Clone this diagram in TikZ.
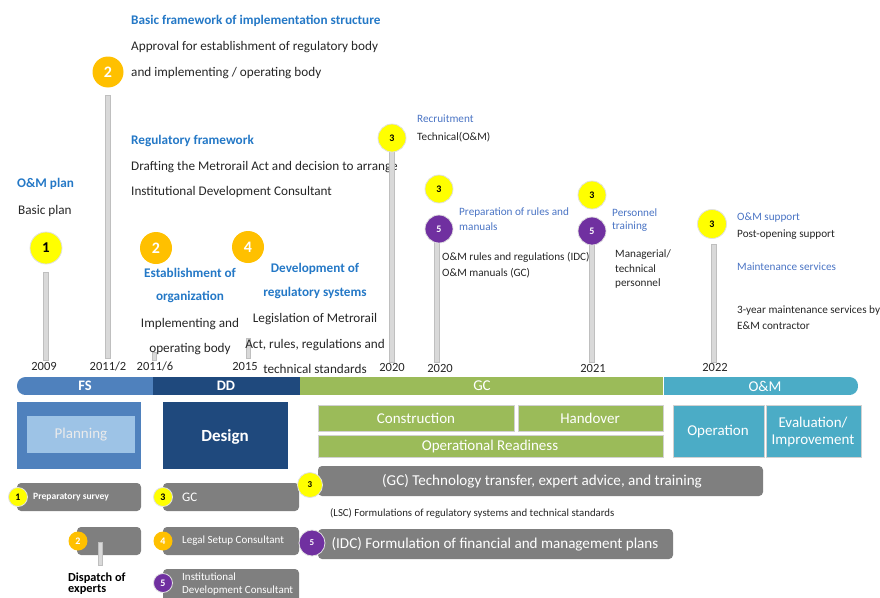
\documentclass[tikz,border=0pt]{standalone}
\usepackage{fontspec}
\setmainfont{Carlito}
\definecolor{txt}{HTML}{262626}
\definecolor{headblue}{HTML}{2478C6}
\definecolor{softblue}{HTML}{4A74C4}
\definecolor{cyellow}{HTML}{FFFF00}
\definecolor{corange}{HTML}{FFC000}
\definecolor{cpurple}{HTML}{7030A0}
\definecolor{stemfill}{HTML}{D9D9D9}
\definecolor{stemedge}{HTML}{BFBFBF}
\definecolor{boxgray}{HTML}{7F7F7F}
\definecolor{fsblue}{HTML}{4F81BD}
\definecolor{ddblue}{HTML}{1F497D}
\definecolor{planlight}{HTML}{9DC3E6}
\definecolor{gcgreen}{HTML}{9BBB59}
\definecolor{omteal}{HTML}{4BACC6}
\newcommand{\fs}[1]{\fontsize{#1}{#1}\selectfont}
\tikzset{
  circ/.style={circle, inner sep=0pt, font=\bfseries},
  ycirc/.style={circ, fill=cyellow, draw=black!12, line width=0.8pt, text=black},
  ocirc/.style={circ, fill=corange, text=white},
  pcirc/.style={circ, fill=cpurple, draw=black!12, line width=0.8pt, text=white},
  stem/.style={fill=stemfill, draw=stemedge, line width=0.4pt},
  head/.style={anchor=west, inner sep=0pt, text=headblue, font=\bfseries\fs{13.2}},
  body/.style={anchor=west, inner sep=0pt, text=txt, font=\fs{13.2}},
  chead/.style={inner sep=0pt, text=headblue, font=\bfseries\fs{13.2}},
  cbody/.style={inner sep=0pt, text=txt, font=\fs{13.2}},
  shead/.style={anchor=west, inner sep=0pt, text=softblue, font=\fs{11.2}},
  sbody/.style={anchor=west, inner sep=0pt, text=txt, font=\fs{11.2}},
  year/.style={inner sep=0pt, text=txt, font=\fs{12.5}},
  gbox/.style={fill=boxgray, rounded corners=4pt},
  gtext/.style={anchor=west, inner sep=0pt, text=white},
  phase/.style={inner sep=0pt, text=white, font=\fs{15}},
  block/.style={draw=black!18, line width=0.5pt},
}
\begin{document}
\begin{tikzpicture}[x=1pt, y=-1pt]
\useasboundingbox (0,0) rectangle (880,597);
\clip (0,0) rectangle (880,597);

% ---------- stems lying behind the texts ----------
\filldraw[stem] (43.5,272) rectangle (48.5,360);
\filldraw[stem] (105.5,95) rectangle (110.5,358);
\filldraw[stem] (152,352) rectangle (156,360);
\filldraw[stem] (246,338) rectangle (250,358);
\filldraw[stem] (434.5,241) rectangle (439.5,362);
\filldraw[stem] (589.5,243) rectangle (594.5,362);
\filldraw[stem] (711.5,244) rectangle (716.5,362);

% ---------- upper text ----------
\node[head] (bfh) at (131,21) {Basic framework of implementation structure};
\node[body] (bf1) at (131,47) {Approval for establishment of regulatory body};
\node[body] (bf2) at (131,73) {and implementing / operating body};
\node[head] (rfh) at (131,141) {Regulatory framework};
\node[body] (rf1) at (131,167) {Drafting the Metrorail Act and decision to arrange};
\node[body] (rf2) at (131,192) {Institutional Development Consultant};
\node[head] (omh) at (17,184) {O\&M plan};
\node[body] (om1) at (18,211) {Basic plan};

\node[chead] (eo1) at (190,273) {Establishment of};
\node[chead] (eo2) at (190,297) {organization};
\node[cbody] (eo3) at (190,324) {Implementing and};
\node[cbody] (eo4) at (190,349) {operating body};

\node[chead] (dr1) at (315,269) {Development of};
\node[chead] (dr2) at (315,293) {regulatory systems};
\node[cbody] (dr3) at (315,319) {Legislation of Metrorail};
\node[cbody] (dr4) at (315,345) {Act, rules, regulations and};
\node[cbody] (dr5) at (315,369) {technical standards};

\node[shead] (rc1) at (417,119) {Recruitment};
\node[sbody] (rc2) at (417,137) {Technical(O\&M)};
\node[shead] (pr1) at (459,213) {Preparation of rules and};
\node[shead] (pr2) at (459,227) {manuals};
\node[sbody] (pr3) at (442,257) {O\&M rules and regulations (IDC)};
\node[sbody] (pr4) at (442,273) {O\&M manuals (GC)};
\node[shead] (pt1) at (612,213) {Personnel};
\node[shead] (pt2) at (612,227) {training};
\node[sbody] (pt3) at (615,255) {Managerial/};
\node[sbody] (pt4) at (615,269) {technical};
\node[sbody] (pt5) at (615,284) {personnel};
\node[shead] (os1) at (737,218) {O\&M support};
\node[sbody] (os2) at (737,235) {Post-opening support};
\node[shead] (ms1) at (737,267) {Maintenance services};
\node[sbody] (ms2) at (737,311) {3-year maintenance services by};
\node[sbody] (ms3) at (737,326) {E\&M contractor};

% the 2020 stem runs over the end of the drafting line
\filldraw[stem] (389.5,150) rectangle (394.5,362);

% ---------- year labels ----------
\node[year] (y2009) at (44,366) {2009};
\node[year] (y2011b) at (108,366) {2011/2};
\node[year] (y2011f) at (155,366) {2011/6};
\node[year] (y2015) at (245,366) {2015};
\node[year] (y2020a) at (392,367) {2020};
\node[year] (y2020b) at (440,368) {2020};
\node[year] (y2021) at (593,368) {2021};
\node[year] (y2022) at (715,367) {2022};

% ---------- milestone circles ----------
\node[ycirc, minimum size=32, font=\bfseries\fs{15}] (m1) at (46,248) {1};
\node[ocirc, minimum size=31, font=\bfseries\fs{16}] (m2a) at (108,72) {2};
\node[ocirc, minimum size=32, font=\bfseries\fs{16}] (m2b) at (156,248) {2};
\node[ocirc, minimum size=32, font=\bfseries\fs{16}] (m4) at (248,247) {4};
\node[ycirc, minimum size=28, font=\bfseries\fs{10}] (m3a) at (392,138) {3};
\node[ycirc, minimum size=28, font=\bfseries\fs{10}] (m3b) at (439,189) {3};
\node[pcirc, minimum size=28, font=\bfseries\fs{10}] (m5a) at (439,229) {5};
\node[ycirc, minimum size=28, font=\bfseries\fs{10}] (m3c) at (592,195) {3};
\node[pcirc, minimum size=28, font=\bfseries\fs{10}] (m5b) at (592,231) {5};
\node[ycirc, minimum size=29, font=\bfseries\fs{10}] (m3d) at (712,224) {3};

% ---------- phase bar ----------
\begin{scope}
  \clip[rounded corners=8.5pt] (17,377) rectangle (858,395);
  \fill[fsblue] (17,377) rectangle (153,395);
  \fill[ddblue] (153,377) rectangle (299.5,395);
  \fill[gcgreen] (299.5,377) rectangle (663,395);
  \fill[omteal] (663.5,377) rectangle (858,395);
\end{scope}
\node[phase, font=\bfseries\fs{14.5}] (pfs) at (85,386) {FS};
\node[phase, font=\bfseries\fs{14.5}] (pdd) at (226,386) {DD};
\node[phase] (pgc) at (482,386) {GC};
\node[phase] (pom) at (765,386) {O\&M};

% ---------- phase blocks ----------
\fill[fsblue] (17,402) rectangle (141,469);
\fill[planlight] (27,416) rectangle (135,453);
\node[inner sep=0pt, text=black!8, font=\fs{15}] (plan) at (81,435) {Planning};
\fill[ddblue] (163,402) rectangle (288,469);
\node[inner sep=0pt, text=white, font=\bfseries\fs{17}] (design) at (225,437) {Design};

\filldraw[block, fill=gcgreen] (318,405) rectangle (514,431);
\filldraw[block, fill=gcgreen] (518,405) rectangle (663,431);
\filldraw[block, fill=gcgreen] (318,435) rectangle (663,457);
\node[phase] (cons) at (416,418) {Construction};
\node[phase] (hand) at (590,418) {Handover};
\node[phase] (opr) at (490,446) {Operational Readiness};

\filldraw[block, fill=omteal] (673,405) rectangle (764,457);
\filldraw[block, fill=omteal] (766,405) rectangle (861,457);
\node[phase] (oper) at (718,432) {Operation};
\node[phase] (eval1) at (813,423) {Evaluation/};
\node[phase] (eval2) at (813,441) {Improvement};

% ---------- implementing bodies ----------
\fill[gbox] (17,483) rectangle (141,511);
\fill[gbox] (77,527) rectangle (141,555);
\filldraw[stem] (98,542) rectangle (102,565);
\fill[gbox] (163,483) rectangle (299,511);
\fill[gbox] (163,527) rectangle (299,555);
\fill[gbox] (163,569) rectangle (299,605);
\fill[gbox] (318,466) rectangle (763,496);
\fill[gbox] (318,529) rectangle (673,559);

\node[gtext, font=\bfseries\fs{9.6}] (prep) at (33,497) {Preparatory survey};
\node[anchor=west, inner sep=0pt, text=black, font=\bfseries\fs{12.3}] (dis1) at (68,578) {Dispatch of};
\node[anchor=west, inner sep=0pt, text=black, font=\bfseries\fs{12.3}] (dis2) at (68,590) {experts};
\node[gtext, font=\fs{13}] (gcb) at (182,497) {GC};
\node[gtext, font=\fs{11}] (lsc) at (182,541) {Legal Setup Consultant};
\node[gtext, font=\fs{11}] (idc1) at (182,577) {Institutional};
\node[gtext, font=\fs{11}] (idc2) at (182,591) {Development Consultant};
\node[inner sep=0pt, text=white, font=\fs{15.1}] (gct) at (542,481) {(GC) Technology transfer, expert advice, and training};
\node[anchor=west, inner sep=0pt, text=txt, font=\fs{10.8}] (lsct) at (330,513) {(LSC) Formulations of regulatory systems and technical standards};
\node[inner sep=0pt, text=white, font=\fs{15.1}] (idct) at (495,544) {(IDC) Formulation of financial and management plans};

\node[ycirc, minimum size=19, font=\bfseries\fs{10}] (b1) at (18,497) {1};
\node[ocirc, minimum size=19, font=\bfseries\fs{10}] (b2) at (78,541) {2};
\node[ycirc, minimum size=19, font=\bfseries\fs{10}] (b3) at (163,497) {3};
\node[ocirc, minimum size=19, font=\bfseries\fs{10}] (b4) at (163,541) {4};
\node[pcirc, minimum size=19, font=\bfseries\fs{10}] (b5) at (163,583) {5};
\node[ycirc, minimum size=25, font=\bfseries\fs{9}] (b3g) at (310,485) {3};
\node[pcirc, minimum size=26, font=\bfseries\fs{9}] (b5g) at (312,543) {5};
\end{tikzpicture}
\end{document}
